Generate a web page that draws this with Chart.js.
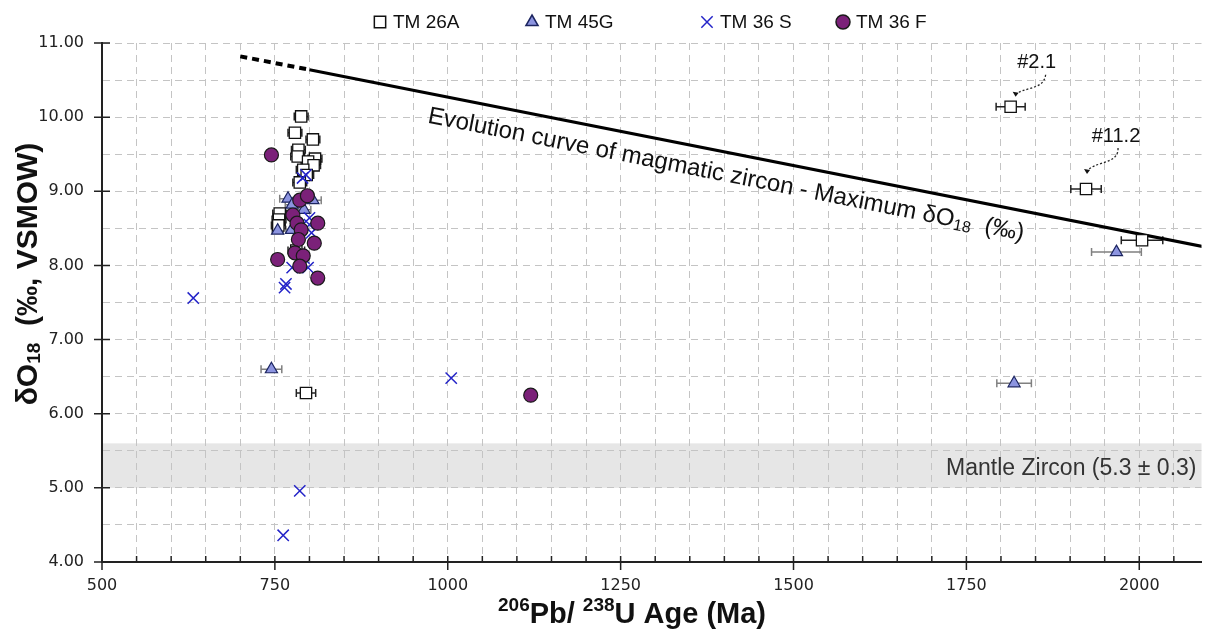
<!DOCTYPE html>
<html>
<head>
<meta charset="utf-8">
<script src="https://cdn.jsdelivr.net/npm/chart.js@4.4.1/dist/chart.umd.min.js"></script>
<style>
  html, body { margin: 0; padding: 0; background: #fff; }
</style>
</head>
<body>
<canvas id="chart" width="1211" height="631"></canvas>
<script>
// TM 26A (open squares): age (Ma), d18O, age error (Ma)
const tm26aAge = [788, 779, 805, 784, 783, 808, 798, 806, 791, 796, 786, 757, 756, 755, 781, 795, 1814, 1923, 2004];
const tm26aO   = [10.01, 9.79, 9.70, 9.56, 9.47, 9.44, 9.40, 9.35, 9.29, 9.22, 9.12, 8.70, 8.62, 8.54, 8.20, 6.28, 10.14, 9.03, 8.34];
const tm26aErr = [10, 10, 10, 10, 10, 10, 10, 10, 10, 10, 10, 10, 10, 10, 12, 14, 21, 22, 30];

// TM 45G (triangles)
const tm45gAge = [769, 805, 775, 754, 774, 792, 745, 1819, 1967];
const tm45gO   = [8.90, 8.88, 8.82, 8.47, 8.48, 8.75, 6.60, 6.41, 8.18];
const tm45gErr = [12, 12, 10, 8, 8, 10, 15, 25, 36];

// TM 36 S (crosses)
const tm36sAge = [632, 764, 766, 786, 762, 1005, 800, 803, 798, 775, 795, 790, 800, 792];
const tm36sO   = [7.56, 7.70, 7.75, 4.96, 4.36, 6.48, 8.64, 8.44, 7.97, 7.97, 9.22, 9.18, 8.55, 8.10];

// TM 36 F (circles)
const tm36fAge = [745, 786, 797, 776, 782, 788, 812, 784, 807, 779, 791, 754, 786, 812, 1120];
const tm36fO   = [9.49, 8.88, 8.94, 8.68, 8.57, 8.48, 8.57, 8.35, 8.30, 8.17, 8.13, 8.08, 7.99, 7.83, 6.25];

// evolution curve of magmatic zircon (dashed part, then solid part)
const evoDashAge = [700, 800];
const evoDashO   = [10.82, 10.64];
const evoAge     = [800, 2100];
const evoO       = [10.64, 8.24];

// mantle zircon band
const mantleBand = [5.0, 5.6];

// labelled spots
const spotLabels = ['#2.1', '#11.2'];
const spotAge    = [1814, 1923];
const spotO      = [10.14, 9.03];

const FONT = '"Liberation Sans", Arial, sans-serif';

function pts(xs, ys) {
    return xs.map((x, i) => ({ x: x, y: ys[i] }));
}

// draw text pieces with sizes / vertical offsets (for sub/superscripts)
function drawParts(ctx, parts, x, y, weight, align) {
    let w = 0;
    parts.forEach(p => {
        ctx.font = weight + ' ' + p[1] + 'px ' + FONT;
        w += ctx.measureText(p[0]).width;
    });
    let cx = align === 'center' ? x - w / 2 : (align === 'right' ? x - w : x);
    parts.forEach(p => {
        ctx.font = weight + ' ' + p[1] + 'px ' + FONT;
        ctx.fillText(p[0], cx, y + p[2]);
        cx += ctx.measureText(p[0]).width;
    });
    return w;
}

// background + mantle band
const bandPlugin = {
    id: 'band',
    beforeDraw(chart) {
        const { ctx, chartArea: a, scales: { y } } = chart;
        ctx.save();
        ctx.fillStyle = '#fff';
        ctx.fillRect(0, 0, chart.width, chart.height);
        const y0 = y.getPixelForValue(mantleBand[1]);
        const y1 = y.getPixelForValue(mantleBand[0]);
        ctx.fillStyle = '#e6e6e6';
        ctx.fillRect(a.left, y0, a.right - a.left, y1 - y0);
        ctx.restore();
    }
};

// horizontal age error bars
const errorBars = {
    id: 'errorBars',
    beforeDatasetsDraw(chart) {
        const { ctx, scales: { x, y } } = chart;
        chart.data.datasets.forEach(ds => {
            if (!ds.xErr) return;
            ctx.save();
            ctx.strokeStyle = ds.errColor;
            ctx.lineWidth = 1.5;
            ctx.beginPath();
            ds.data.forEach((p, j) => {
                const e = ds.xErr[j];
                const x0 = x.getPixelForValue(p.x - e);
                const x1 = x.getPixelForValue(p.x + e);
                const py = y.getPixelForValue(p.y);
                ctx.moveTo(x0, py); ctx.lineTo(x1, py);
                ctx.moveTo(x0, py - 4); ctx.lineTo(x0, py + 4);
                ctx.moveTo(x1, py - 4); ctx.lineTo(x1, py + 4);
            });
            ctx.stroke();
            ctx.restore();
        });
    }
};

// tick marks, titles, legend, annotations
const decorations = {
    id: 'decorations',
    afterDraw(chart) {
        const { ctx, chartArea: a, scales: { x, y } } = chart;
        ctx.save();

        // tick marks
        ctx.strokeStyle = '#222';
        ctx.lineWidth = 1.5;
        ctx.beginPath();
        x.ticks.forEach(t => {
            const px = x.getPixelForValue(t.value);
            const major = t.value % 250 === 0;
            ctx.moveTo(px, a.bottom - 6);
            ctx.lineTo(px, a.bottom + (major ? 8 : 0));
        });
        y.ticks.forEach(t => {
            if (!Number.isInteger(t.value)) return;
            const py = y.getPixelForValue(t.value);
            ctx.moveTo(a.left - 8, py);
            ctx.lineTo(a.left + 8, py);
        });
        ctx.stroke();

        // axis titles
        ctx.fillStyle = '#111';
        ctx.textBaseline = 'alphabetic';
        drawParts(ctx, [['206', 19, -12], ['Pb/ ', 29, 0], ['238', 19, -12], ['U Age (Ma)', 29, 0]],
            632, 623, 'bold', 'center');
        ctx.save();
        ctx.translate(37, 274);
        ctx.rotate(-Math.PI / 2);
        drawParts(ctx, [['\u03B4O', 30, 0], ['18', 19, 3], ['  (\u2030, VSMOW)', 30, 0]], 0, 0, 'bold', 'center');
        ctx.restore();

        // legend
        const items = [
            { x: 380, label: 'TM 26A', style: 'rect', r: 8, fill: '#fff', stroke: '#111' },
            { x: 532, label: 'TM 45G', style: 'triangle', r: 7, fill: '#8c94e0', stroke: '#1c2560' },
            { x: 707, label: 'TM 36 S', style: 'crossRot', r: 8, fill: '#2424c8', stroke: '#2424c8' },
            { x: 843, label: 'TM 36 F', style: 'circle', r: 7, fill: '#7b2179', stroke: '#1a1a1a' }
        ];
        items.forEach(it => {
            ctx.fillStyle = it.fill;
            ctx.strokeStyle = it.stroke;
            ctx.lineWidth = 1.5;
            Chart.helpers.drawPoint(ctx, { pointStyle: it.style, radius: it.r, rotation: 0, borderWidth: 1.5 }, it.x, 22);
            ctx.fillStyle = '#111';
            ctx.font = '19px ' + FONT;
            ctx.textBaseline = 'middle';
            ctx.fillText(it.label, it.x + 13, 23);
        });

        // mantle zircon label
        ctx.fillStyle = '#333';
        ctx.textBaseline = 'middle';
        ctx.textAlign = 'right';
        ctx.font = '23px ' + FONT;
        ctx.fillText('Mantle Zircon (5.3 \u00B1 0.3)', a.right - 5,
            (y.getPixelForValue(mantleBand[0]) + y.getPixelForValue(mantleBand[1])) / 2 + 3);
        ctx.textAlign = 'left';

        // evolution curve label, parallel to the curve
        const ex0 = x.getPixelForValue(evoAge[0]), ey0 = y.getPixelForValue(evoO[0]);
        const ex1 = x.getPixelForValue(evoAge[1]), ey1 = y.getPixelForValue(evoO[1]);
        const ang = Math.atan2(ey1 - ey0, ex1 - ex0);
        const sx = x.getPixelForValue(978);
        const sy = ey0 + (sx - ex0) * Math.tan(ang);
        ctx.save();
        ctx.translate(sx, sy);
        ctx.rotate(ang);
        ctx.fillStyle = '#111';
        ctx.textBaseline = 'alphabetic';
        drawParts(ctx, [['Evolution curve of magmatic zircon - Maximum \u03B4O', 24, 0], ['18', 16, 3], ['  (\u2030)', 24, 0]],
            0, 29, 'normal', 'left');
        ctx.restore();

        // spot labels with dotted arrows
        const ann = [
            { tx: 26, ty: -39, path: [35, -32, 33, -16, 12, -20, 5, -12] },
            { tx: 30, ty: -47, path: [32, -41, 33, -24, 6, -28, 1, -17] }
        ];
        spotLabels.forEach((lab, i) => {
            const px = x.getPixelForValue(spotAge[i]);
            const py = y.getPixelForValue(spotO[i]);
            const o = ann[i];
            ctx.fillStyle = '#111';
            ctx.font = '20px ' + FONT;
            ctx.textAlign = 'center';
            ctx.textBaseline = 'alphabetic';
            ctx.fillText(lab, px + o.tx, py + o.ty);
            const p = o.path;
            ctx.strokeStyle = '#222';
            ctx.lineWidth = 1.3;
            ctx.setLineDash([2, 2]);
            ctx.beginPath();
            ctx.moveTo(px + p[0], py + p[1]);
            ctx.bezierCurveTo(px + p[2], py + p[3], px + p[4], py + p[5], px + p[6], py + p[7]);
            ctx.stroke();
            ctx.setLineDash([]);
            ctx.beginPath();
            ctx.moveTo(px + p[6] - 3, py + p[7] - 3);
            ctx.lineTo(px + p[6] + 3, py + p[7] - 2);
            ctx.lineTo(px + p[6], py + p[7] + 2);
            ctx.closePath();
            ctx.fill();
        });
        ctx.textAlign = 'left';
        ctx.restore();
    }
};

new Chart(document.getElementById('chart'), {
    type: 'scatter',
    data: {
        datasets: [
            {
                label: 'TM 36 F', data: pts(tm36fAge, tm36fO), order: 1,
                pointStyle: 'circle', pointRadius: 7, pointHoverRadius: 7,
                backgroundColor: '#7b2179', borderColor: '#1a1a1a', borderWidth: 1.2
            },
            {
                label: 'TM 36 S', data: pts(tm36sAge, tm36sO), order: 2,
                pointStyle: 'crossRot', pointRadius: 8, pointHoverRadius: 8,
                backgroundColor: '#2424c8', borderColor: '#2424c8', borderWidth: 1.5
            },
            {
                label: 'TM 45G', data: pts(tm45gAge, tm45gO), order: 3,
                xErr: tm45gErr, errColor: '#808080',
                pointStyle: 'triangle', pointRadius: 7, pointHoverRadius: 7,
                backgroundColor: '#8c94e0', borderColor: '#1c2560', borderWidth: 1.2
            },
            {
                label: 'TM 26A', data: pts(tm26aAge, tm26aO), order: 4,
                xErr: tm26aErr, errColor: '#222',
                pointStyle: 'rect', pointRadius: 8, pointHoverRadius: 8,
                backgroundColor: '#fff', borderColor: '#111', borderWidth: 1.3
            },
            {
                label: 'evo dashed', data: pts(evoDashAge, evoDashO), order: 5, showLine: true,
                borderColor: '#000', borderWidth: 4, borderDash: [7, 5], pointRadius: 0, pointHoverRadius: 0
            },
            {
                label: 'evo', data: pts(evoAge, evoO), order: 5, showLine: true,
                borderColor: '#000', borderWidth: 3, pointRadius: 0, pointHoverRadius: 0
            }
        ]
    },
    options: {
        responsive: false,
        animation: false,
        layout: { padding: { top: 43, right: 0, left: 0, bottom: 0 } },
        plugins: {
            legend: { display: false },
            tooltip: { enabled: false }
        },
        scales: {
            x: {
                type: 'linear',
                min: 500,
                max: 2090,
                afterFit(s) { s.height = 69; },
                ticks: {
                    stepSize: 50,
                    includeBounds: false,
                    autoSkip: false,
                    maxRotation: 0,
                    padding: 14,
                    color: '#222',
                    font: { family: '"DejaVu Sans"', size: 16 },
                    callback: v => (v % 250 === 0 ? String(v) : '')
                },
                grid: { color: '#c4c4c4', lineWidth: 1, drawTicks: false },
                border: { color: '#222', width: 2, dash: [7, 5] }
            },
            y: {
                min: 4,
                max: 11,
                afterFit(s) { s.width = 102; },
                ticks: {
                    stepSize: 0.5,
                    autoSkip: false,
                    padding: 18,
                    color: '#222',
                    font: { family: '"DejaVu Sans"', size: 16 },
                    callback: v => (Number.isInteger(v) ? v.toFixed(2) : '')
                },
                grid: { color: '#c4c4c4', lineWidth: 1, drawTicks: false },
                border: { color: '#222', width: 2, dash: [7, 5] }
            }
        }
    },
    plugins: [bandPlugin, errorBars, decorations]
});
</script>
</body>
</html>
